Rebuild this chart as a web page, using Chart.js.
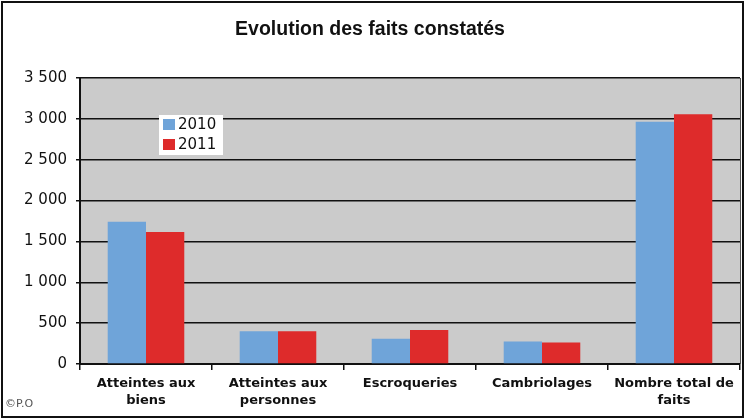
<!DOCTYPE html>
<html lang="fr">
<head>
<meta charset="UTF-8">
<title>Evolution des faits constatés</title>
<script src="https://cdn.jsdelivr.net/npm/chart.js"></script>
<style>
html, body { margin: 0; padding: 0; background: #fff; }
#wrap { position: relative; width: 747px; height: 420px; }
</style>
</head>
<body>
<div id="wrap">
  <canvas id="chart" width="747" height="420"></canvas>
</div>
<script>
const categories = [
  ["Atteintes aux", "biens"],
  ["Atteintes aux", "personnes"],
  ["Escroqueries"],
  ["Cambriolages"],
  ["Nombre total de", "faits"]
];
const seriesNames = ["2010", "2011"];
const values2010 = [1740, 400, 310, 275, 2965];
const values2011 = [1615, 400, 415, 262, 3055];
const seriesColors = ["#6fa4d9", "#de2b2b"];

// "3 500" style labels
const fmt = v => String(v).replace(/\B(?=(\d{3})+(?!\d))/g, " ");

const decor = {
  id: "decor",
  beforeDraw(chart) {
    const { ctx, chartArea: a } = chart;
    ctx.save();
    ctx.fillStyle = "#cbcbcb";
    ctx.fillRect(a.left, a.top, a.right - a.left, a.bottom - a.top);
    ctx.restore();
  },
  afterDraw(chart) {
    const { ctx, chartArea: a } = chart;
    ctx.save();
    // right edge of plot area
    ctx.strokeStyle = "#555";
    ctx.lineWidth = 1;
    ctx.beginPath();
    ctx.moveTo(a.right + 0.5, a.top);
    ctx.lineTo(a.right + 0.5, a.bottom);
    ctx.stroke();

    // legend box inside plot
    ctx.fillStyle = "#fff";
    ctx.fillRect(159, 115, 64, 40);
    ctx.font = "15px 'DejaVu Sans'";
    ctx.textBaseline = "middle";
    chart.data.datasets.forEach((ds, i) => {
      const y = 124 + i * 20;
      ctx.fillStyle = ds.backgroundColor;
      ctx.fillRect(163, y - 5, 12, 11);
      ctx.fillStyle = "#111";
      ctx.fillText(ds.label, 178, y + 1);
    });

    // credit
    ctx.fillStyle = "#555";
    ctx.font = "11px 'DejaVu Sans'";
    ctx.fillText("©P.O", 5, 404);

    // outer frame
    ctx.strokeStyle = "#111";
    ctx.lineWidth = 2;
    ctx.strokeRect(2, 2, 741, 415);
    ctx.restore();
  }
};

new Chart(document.getElementById("chart"), {
  type: "bar",
  data: {
    labels: categories,
    datasets: [
      { label: seriesNames[0], data: values2010, backgroundColor: seriesColors[0] },
      { label: seriesNames[1], data: values2011, backgroundColor: seriesColors[1] }
    ]
  },
  options: {
    responsive: false,
    animation: false,
    layout: { padding: { top: 0, right: 7, bottom: 0, left: 0 } },
    datasets: { bar: { categoryPercentage: 0.58, barPercentage: 1.0 } },
    plugins: {
      legend: { display: false },
      tooltip: { enabled: false },
      title: {
        display: true,
        text: "Evolution des faits constatés",
        color: "#111",
        font: { family: "'Liberation Sans', Arial, sans-serif", size: 19.5, weight: "bold", lineHeight: 1.2 },
        padding: { top: 18, bottom: 36.6 }
      }
    },
    scales: {
      x: {
        afterFit: s => { s.height = 56; },
        grid: { offset: true, drawOnChartArea: false, drawTicks: true, tickLength: 6, color: "#111", lineWidth: 1.5 },
        border: { color: "#111", width: 2 },
        ticks: {
          color: "#111",
          padding: 5,
          maxRotation: 0,
          autoSkip: false,
          font: { family: "'DejaVu Sans', Verdana, sans-serif", size: 13, weight: "bold", lineHeight: 1.3 }
        }
      },
      y: {
        min: 0,
        max: 3500,
        afterFit: s => { s.width = 80; },
        grid: { color: "#111", lineWidth: 1.5, drawTicks: true, tickLength: 4 },
        border: { color: "#111", width: 2 },
        ticks: {
          stepSize: 500,
          color: "#111",
          padding: 9,
          font: { family: "'DejaVu Sans', Verdana, sans-serif", size: 15 },
          callback: v => fmt(v)
        }
      }
    }
  },
  plugins: [decor]
});
</script>
</body>
</html>
